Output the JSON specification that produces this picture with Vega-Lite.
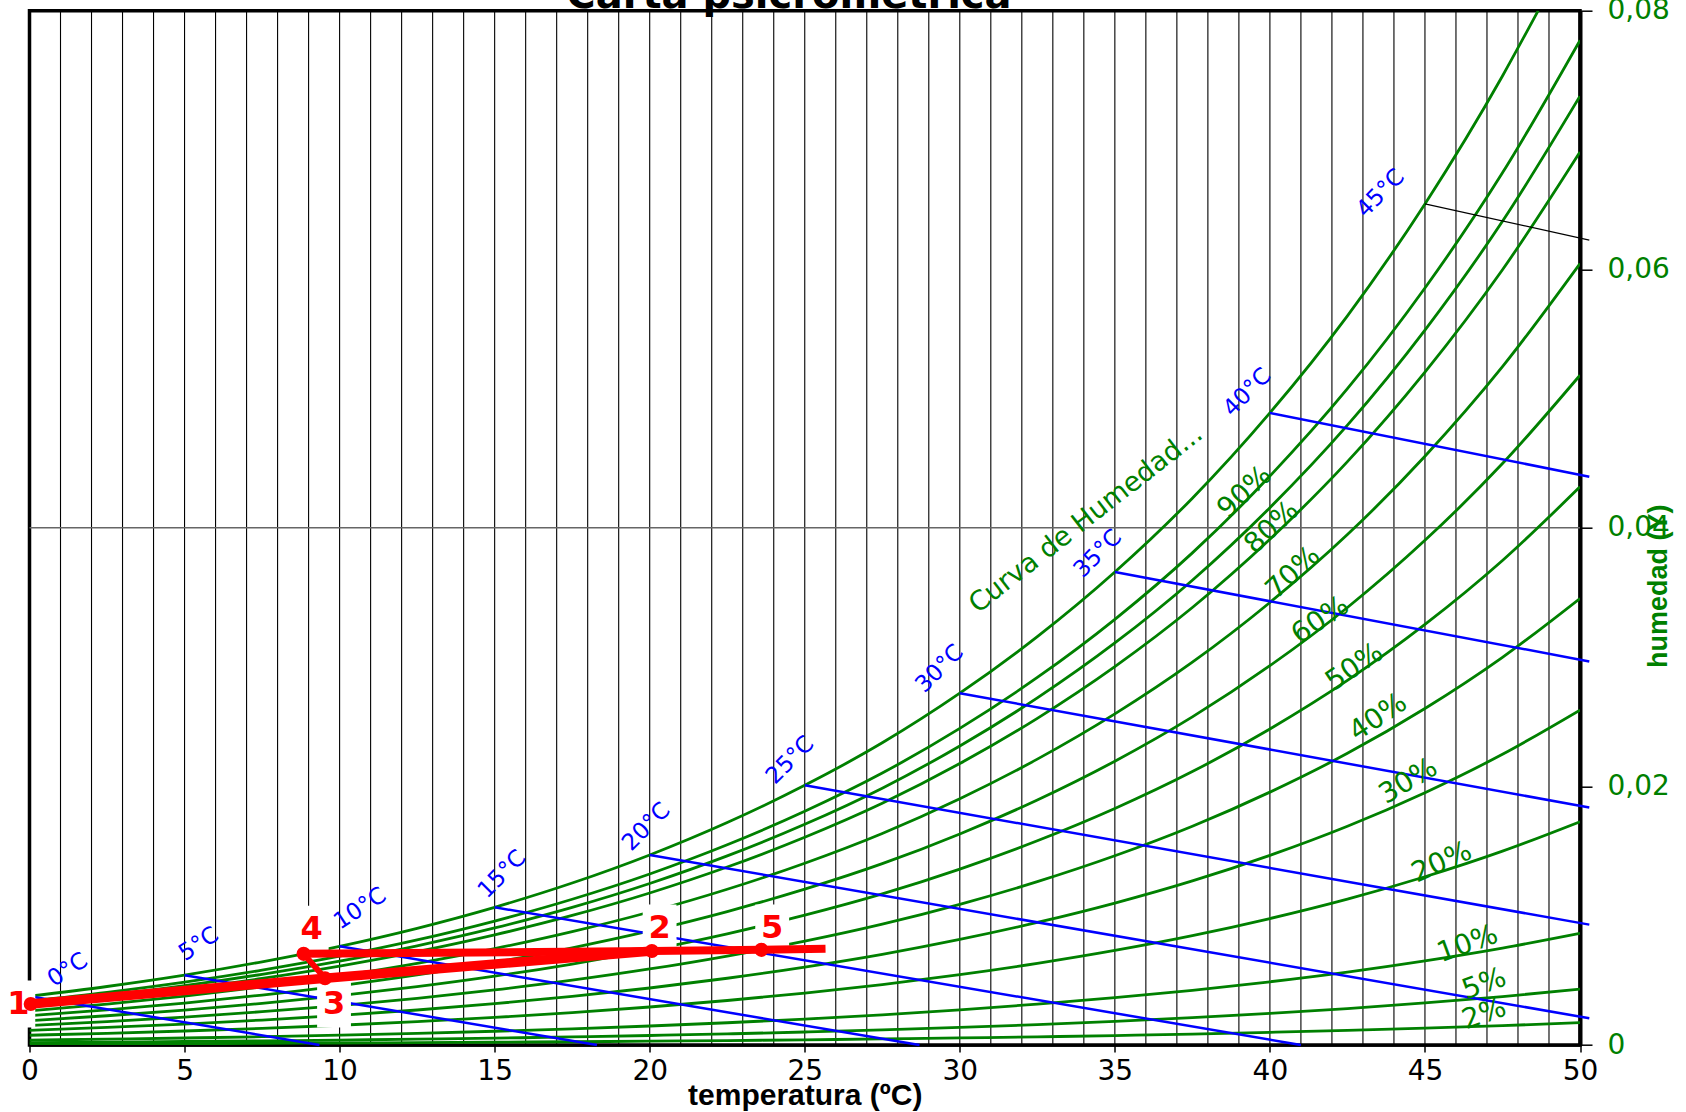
{
  "$schema": "https://vega.github.io/schema/vega-lite/v6.json",
  "width": 1550.5,
  "height": 1034.3,
  "autosize": {"type": "none"},
  "padding": {"left": 29.5, "top": 10.7, "right": 106, "bottom": 67},
  "background": "white",
  "config": {"view": {"stroke": "#000", "strokeWidth": 3.5}},
  "datasets": {
    "grid": [{"T":1},{"T":2},{"T":3},{"T":4},{"T":5},{"T":6},{"T":7},{"T":8},{"T":9},{"T":10},{"T":11},{"T":12},{"T":13},{"T":14},{"T":15},{"T":16},{"T":17},{"T":18},{"T":19},{"T":20},{"T":21},{"T":22},{"T":23},{"T":24},{"T":25},{"T":26},{"T":27},{"T":28},{"T":29},{"T":30},{"T":31},{"T":32},{"T":33},{"T":34},{"T":35},{"T":36},{"T":37},{"T":38},{"T":39},{"T":40},{"T":41},{"T":42},{"T":43},{"T":44},{"T":45},{"T":46},{"T":47},{"T":48},{"T":49}],
    "hline": [{"Y": 0.04}],
    "ttl": [{"txt": "Carta psicrométrica", "T": 24.49, "Y": 0.08023}],
    "rh": [
      {"T":0,"a100":0.003775,"a90":0.003398,"a85":0.003209,"a80":0.00302,"a70":0.002643,"a60":0.002265,"a50":0.001888,"a40":0.00151,"a30":0.001133,"a20":0.000755,"a10":0.000378,"a5":0.000189,"a2":0.0000755},
      {"T":2.5,"a100":0.004524,"a90":0.004072,"a85":0.003845,"a80":0.003619,"a70":0.003167,"a60":0.002714,"a50":0.002262,"a40":0.00181,"a30":0.001357,"a20":0.000905,"a10":0.000452,"a5":0.000226,"a2":0.0000905},
      {"T":5,"a100":0.005403,"a90":0.004863,"a85":0.004593,"a80":0.004322,"a70":0.003782,"a60":0.003242,"a50":0.002702,"a40":0.002161,"a30":0.001621,"a20":0.001081,"a10":0.00054,"a5":0.00027,"a2":0.000108},
      {"T":7.5,"a100":0.006436,"a90":0.005792,"a85":0.005471,"a80":0.005149,"a70":0.004505,"a60":0.003862,"a50":0.003218,"a40":0.002574,"a30":0.001931,"a20":0.001287,"a10":0.000644,"a5":0.000322,"a2":0.000129},
      {"T":10,"a100":0.007632,"a90":0.006869,"a85":0.006487,"a80":0.006106,"a70":0.005342,"a60":0.004579,"a50":0.003816,"a40":0.003053,"a30":0.00229,"a20":0.001526,"a10":0.000763,"a5":0.000382,"a2":0.000153},
      {"T":12.5,"a100":0.009028,"a90":0.008125,"a85":0.007674,"a80":0.007222,"a70":0.00632,"a60":0.005417,"a50":0.004514,"a40":0.003611,"a30":0.002708,"a20":0.001806,"a10":0.000903,"a5":0.000451,"a2":0.000181},
      {"T":15,"a100":0.01065,"a90":0.009585,"a85":0.009053,"a80":0.00852,"a70":0.007455,"a60":0.00639,"a50":0.005325,"a40":0.00426,"a30":0.003195,"a20":0.00213,"a10":0.001065,"a5":0.000533,"a2":0.000213},
      {"T":17.5,"a100":0.012527,"a90":0.011274,"a85":0.010648,"a80":0.010022,"a70":0.008769,"a60":0.007516,"a50":0.006264,"a40":0.005011,"a30":0.003758,"a20":0.002505,"a10":0.001253,"a5":0.000626,"a2":0.000251},
      {"T":20,"a100":0.014699,"a90":0.013229,"a85":0.012494,"a80":0.011759,"a70":0.010289,"a60":0.008819,"a50":0.00735,"a40":0.00588,"a30":0.00441,"a20":0.00294,"a10":0.00147,"a5":0.000735,"a2":0.000294},
      {"T":22.5,"a100":0.017207,"a90":0.015486,"a85":0.014626,"a80":0.013766,"a70":0.012045,"a60":0.010324,"a50":0.008604,"a40":0.006883,"a30":0.005162,"a20":0.003441,"a10":0.001721,"a5":0.00086,"a2":0.000344},
      {"T":25,"a100":0.020086,"a90":0.018077,"a85":0.017073,"a80":0.016069,"a70":0.01406,"a60":0.012052,"a50":0.010043,"a40":0.008034,"a30":0.006026,"a20":0.004017,"a10":0.002009,"a5":0.001004,"a2":0.000402},
      {"T":27.5,"a100":0.023374,"a90":0.021037,"a85":0.019868,"a80":0.018699,"a70":0.016362,"a60":0.014024,"a50":0.011687,"a40":0.00935,"a30":0.007012,"a20":0.004675,"a10":0.002337,"a5":0.001169,"a2":0.000467},
      {"T":30,"a100":0.02721,"a90":0.024489,"a85":0.023129,"a80":0.021768,"a70":0.019047,"a60":0.016326,"a50":0.013605,"a40":0.010884,"a30":0.008163,"a20":0.005442,"a10":0.002721,"a5":0.001361,"a2":0.000544},
      {"T":32.5,"a100":0.031585,"a90":0.028427,"a85":0.026847,"a80":0.025268,"a70":0.02211,"a60":0.018951,"a50":0.015793,"a40":0.012634,"a30":0.009476,"a20":0.006317,"a10":0.003159,"a5":0.001579,"a2":0.000632},
      {"T":35,"a100":0.036584,"a90":0.032926,"a85":0.031096,"a80":0.029267,"a70":0.025609,"a60":0.02195,"a50":0.018292,"a40":0.014634,"a30":0.010975,"a20":0.007317,"a10":0.003658,"a5":0.001829,"a2":0.000732},
      {"T":37.5,"a100":0.042296,"a90":0.038066,"a85":0.035952,"a80":0.033837,"a70":0.029607,"a60":0.025378,"a50":0.021148,"a40":0.016918,"a30":0.012689,"a20":0.008459,"a10":0.00423,"a5":0.002115,"a2":0.000846},
      {"T":40,"a100":0.048894,"a90":0.044005,"a85":0.04156,"a80":0.039115,"a70":0.034226,"a60":0.029336,"a50":0.024447,"a40":0.019558,"a30":0.014668,"a20":0.009779,"a10":0.004889,"a5":0.002445,"a2":0.000978},
      {"T":42.5,"a100":0.056401,"a90":0.050761,"a85":0.047941,"a80":0.045121,"a70":0.039481,"a60":0.033841,"a50":0.028201,"a40":0.02256,"a30":0.01692,"a20":0.01128,"a10":0.00564,"a5":0.00282,"a2":0.001128},
      {"T":45,"a100":0.065057,"a90":0.058551,"a85":0.055298,"a80":0.052046,"a70":0.04554,"a60":0.039034,"a50":0.032529,"a40":0.026023,"a30":0.019517,"a20":0.013011,"a10":0.006506,"a5":0.003253,"a2":0.001301},
      {"T":47.5,"a100":0.074954,"a90":0.067459,"a85":0.063711,"a80":0.059963,"a70":0.052468,"a60":0.044972,"a50":0.037477,"a40":0.029982,"a30":0.022486,"a20":0.014991,"a10":0.007495,"a5":0.003748,"a2":0.001499},
      {"T":48.65,"a100":0.08,"a90":null,"a85":null,"a80":null,"a70":null,"a60":null,"a50":null,"a40":null,"a30":null,"a20":null,"a10":null,"a5":null,"a2":null},
      {"T":50,"a100":null,"a90":0.07771,"a85":0.073392,"a80":0.069075,"a70":0.060441,"a60":0.051806,"a50":0.043172,"a40":0.034538,"a30":0.025903,"a20":0.017269,"a10":0.008634,"a5":0.004317,"a2":0.001727}
    ],
    "wb": [
      {"tw":"0","T":0,"Y":0.003775},{"tw":"0","T":9.35,"Y":0},
      {"tw":"5","T":5,"Y":0.005403},{"tw":"5","T":18.3,"Y":0},
      {"tw":"10","T":10,"Y":0.007632},{"tw":"10","T":28.7,"Y":0},
      {"tw":"15","T":15,"Y":0.01065},{"tw":"15","T":41.0,"Y":0},
      {"tw":"20","T":20,"Y":0.014699},{"tw":"20","T":50.3,"Y":0.00207},
      {"tw":"25","T":25,"Y":0.020086},{"tw":"25","T":50.3,"Y":0.00931},
      {"tw":"30","T":30,"Y":0.02721},{"tw":"30","T":50.3,"Y":0.01837},
      {"tw":"35","T":35,"Y":0.036584},{"tw":"35","T":50.3,"Y":0.02967},
      {"tw":"40","T":40,"Y":0.048894},{"tw":"40","T":50.3,"Y":0.04396}
    ],
    "wb45": [{"T":45,"Y":0.065057},{"T":50.3,"Y":0.06226}],
    "wbl": [
      {"txt":"0°C","T":1.23,"Y":0.00581},{"txt":"5°C","T":5.46,"Y":0.0078},{"txt":"10°C","T":10.66,"Y":0.01055},
      {"txt":"15°C","T":15.24,"Y":0.01321},{"txt":"20°C","T":19.89,"Y":0.01687},{"txt":"25°C","T":24.53,"Y":0.02203},
      {"txt":"30°C","T":29.35,"Y":0.0291},{"txt":"35°C","T":34.45,"Y":0.038},{"txt":"40°C","T":39.27,"Y":0.05048},{"txt":"45°C","T":43.57,"Y":0.06587}
    ],
    "pl": [
      {"txt":"90%","T":39.2,"Y":0.04274},{"txt":"80%","T":40.07,"Y":0.04},{"txt":"70%","T":40.76,"Y":0.03651},
      {"txt":"60%","T":41.63,"Y":0.03283},{"txt":"50%","T":42.74,"Y":0.0292},{"txt":"40%","T":43.5,"Y":0.02532},
      {"txt":"30%","T":44.47,"Y":0.02037},{"txt":"20%","T":45.55,"Y":0.0141},
      {"txt":"10%","T":46.38,"Y":0.00778},{"txt":"5%","T":46.92,"Y":0.00468},{"txt":"2%","T":46.92,"Y":0.00236},
      {"txt":"Curva de Humedad...","T":34.07,"Y":0.04067}
    ],
    "proc": [
      {"seg":"A","T":0.04,"Y":0.00317},{"seg":"A","T":9.53,"Y":0.00516},{"seg":"A","T":20.07,"Y":0.00727},
      {"seg":"B","T":8.84,"Y":0.00705},{"seg":"B","T":20.07,"Y":0.00727},{"seg":"B","T":23.6,"Y":0.00736},{"seg":"B","T":25.67,"Y":0.00745},
      {"seg":"C","T":8.84,"Y":0.00705},{"seg":"C","T":9.53,"Y":0.00516}
    ],
    "pts": [
      {"n":"1","T":0.04,"Y":0.00317},{"n":"2","T":20.07,"Y":0.00727},{"n":"3","T":9.53,"Y":0.00516},{"n":"4","T":8.84,"Y":0.00705},{"n":"5","T":23.6,"Y":0.00736}
    ],
    "lab": [
      {"n":"1","T":-0.36,"Y":0.00317},{"n":"2","T":20.32,"Y":0.00905},{"n":"3","T":9.82,"Y":0.00317},{"n":"4","T":9.1,"Y":0.00895},{"n":"5","T":23.95,"Y":0.00905}
    ]
  },
  "layer": [
    {
      "data": {"name": "grid"},
      "mark": {"type": "rule", "color": "#000", "strokeWidth": 1.1},
      "encoding": {
        "x": {"field": "T", "type": "quantitative", "scale": {"domain": [0, 50], "nice": false},
          "axis": {"values": [0,5,10,15,20,25,30,35,40,45,50], "grid": false, "title": "temperatura (ºC)",
            "titleFont": "Liberation Sans", "titleFontSize": 30, "titleFontWeight": "bold", "titleColor": "#000",
            "titleY": 59, "titleBaseline": "alphabetic",
            "labelFont": "DejaVu Sans", "labelFontSize": 28, "labelColor": "#000", "labelPadding": 5, "labelBaseline": "top",
            "tickSize": 7, "tickColor": "#000", "tickWidth": 1.5, "domainColor": "#000", "domainWidth": 2.5,
            "labelOverlap": false, "labelFlush": false}}
      }
    },
    {
      "data": {"name": "hline"},
      "mark": {"type": "rule", "color": "#666", "strokeWidth": 1.5},
      "encoding": {"y": {"field": "Y", "type": "quantitative", "scale": {"domain": [0, 0.08], "nice": false, "zero": false}}}
    },
    {
      "data": {"name": "rh"},
      "transform": [{"fold": ["a100","a90","a85","a80","a70","a60","a50","a40","a30","a20","a10","a5","a2"], "as": ["k", "Y"]}, {"filter": "isValid(datum.Y)"}],
      "mark": {"type": "line", "color": "#008000", "strokeWidth": 2.8, "clip": true, "interpolate": "monotone"},
      "encoding": {
        "x": {"field": "T", "type": "quantitative", "scale": {"domain": [0, 50], "nice": false}},
        "y": {"field": "Y", "type": "quantitative", "scale": {"domain": [0, 0.08], "nice": false, "zero": false},
          "axis": {"orient": "right", "values": [0, 0.02, 0.04, 0.06, 0.08], "grid": false, "title": "humedad (Y)",
            "titleFont": "Liberation Sans", "titleFontSize": 27, "titleFontWeight": "bold", "titleColor": "#008000",
            "titleAngle": 270, "titleX": 78, "titleY": 575, "titleAlign": "center", "titleBaseline": "middle",
            "labelExpr": "datum.value == 0 ? '0' : replace(format(datum.value, '.2f'), '.', ',')",
            "labelFont": "DejaVu Sans", "labelFontSize": 28, "labelColor": "#008000", "labelPadding": 15,
            "tickSize": 12, "tickColor": "#000", "tickWidth": 1.5, "domainColor": "#000", "domainWidth": 4,
            "labelOverlap": false, "labelFlush": false}},
        "detail": {"field": "k", "type": "nominal"}
      }
    },
    {
      "data": {"name": "wb"},
      "mark": {"type": "line", "color": "#0000FF", "strokeWidth": 2.5},
      "encoding": {
        "x": {"field": "T", "type": "quantitative", "scale": {"domain": [0, 50], "nice": false}},
        "y": {"field": "Y", "type": "quantitative", "scale": {"domain": [0, 0.08], "nice": false, "zero": false}},
        "detail": {"field": "tw", "type": "nominal"}
      }
    },
    {
      "data": {"name": "wb45"},
      "mark": {"type": "line", "color": "#000", "strokeWidth": 1.2},
      "encoding": {
        "x": {"field": "T", "type": "quantitative", "scale": {"domain": [0, 50], "nice": false}},
        "y": {"field": "Y", "type": "quantitative", "scale": {"domain": [0, 0.08], "nice": false, "zero": false}}
      }
    },
    {
      "data": {"name": "wbl"},
      "transform": [{"filter": {"field": "txt", "oneOf": ["0°C", "5°C", "10°C"]}}],
      "mark": {"type": "text", "color": "#0000FF", "font": "DejaVu Sans", "fontSize": 23, "angle": 327, "align": "center", "baseline": "middle"},
      "encoding": {
        "x": {"field": "T", "type": "quantitative", "scale": {"domain": [0, 50], "nice": false}},
        "y": {"field": "Y", "type": "quantitative", "scale": {"domain": [0, 0.08], "nice": false, "zero": false}},
        "text": {"field": "txt"}
      }
    },
    {
      "data": {"name": "wbl"},
      "transform": [{"filter": {"field": "txt", "oneOf": ["15°C", "20°C", "25°C", "30°C", "35°C", "40°C", "45°C"]}}],
      "mark": {"type": "text", "color": "#0000FF", "font": "DejaVu Sans", "fontSize": 23, "angle": 315, "align": "center", "baseline": "middle"},
      "encoding": {
        "x": {"field": "T", "type": "quantitative", "scale": {"domain": [0, 50], "nice": false}},
        "y": {"field": "Y", "type": "quantitative", "scale": {"domain": [0, 0.08], "nice": false, "zero": false}},
        "text": {"field": "txt"}
      }
    },
    {
      "data": {"name": "pl"},
      "transform": [{"filter": {"field": "txt", "oneOf": ["90%", "80%", "70%"]}}],
      "mark": {"type": "text", "color": "#008000", "font": "DejaVu Sans", "fontSize": 28, "angle": 317, "align": "center", "baseline": "middle"},
      "encoding": {
        "x": {"field": "T", "type": "quantitative", "scale": {"domain": [0, 50], "nice": false}},
        "y": {"field": "Y", "type": "quantitative", "scale": {"domain": [0, 0.08], "nice": false, "zero": false}},
        "text": {"field": "txt"}
      }
    },
    {
      "data": {"name": "pl"},
      "transform": [{"filter": {"field": "txt", "oneOf": ["60%", "50%", "40%"]}}],
      "mark": {"type": "text", "color": "#008000", "font": "DejaVu Sans", "fontSize": 28, "angle": 326, "align": "center", "baseline": "middle"},
      "encoding": {
        "x": {"field": "T", "type": "quantitative", "scale": {"domain": [0, 50], "nice": false}},
        "y": {"field": "Y", "type": "quantitative", "scale": {"domain": [0, 0.08], "nice": false, "zero": false}},
        "text": {"field": "txt"}
      }
    },
    {
      "data": {"name": "pl"},
      "transform": [{"filter": {"field": "txt", "oneOf": ["30%"]}}],
      "mark": {"type": "text", "color": "#008000", "font": "DejaVu Sans", "fontSize": 28, "angle": 329, "align": "center", "baseline": "middle"},
      "encoding": {
        "x": {"field": "T", "type": "quantitative", "scale": {"domain": [0, 50], "nice": false}},
        "y": {"field": "Y", "type": "quantitative", "scale": {"domain": [0, 0.08], "nice": false, "zero": false}},
        "text": {"field": "txt"}
      }
    },
    {
      "data": {"name": "pl"},
      "transform": [{"filter": {"field": "txt", "oneOf": ["20%"]}}],
      "mark": {"type": "text", "color": "#008000", "font": "DejaVu Sans", "fontSize": 28, "angle": 336, "align": "center", "baseline": "middle"},
      "encoding": {
        "x": {"field": "T", "type": "quantitative", "scale": {"domain": [0, 50], "nice": false}},
        "y": {"field": "Y", "type": "quantitative", "scale": {"domain": [0, 0.08], "nice": false, "zero": false}},
        "text": {"field": "txt"}
      }
    },
    {
      "data": {"name": "pl"},
      "transform": [{"filter": {"field": "txt", "oneOf": ["10%", "5%", "2%"]}}],
      "mark": {"type": "text", "color": "#008000", "font": "DejaVu Sans", "fontSize": 28, "angle": 340, "align": "center", "baseline": "middle"},
      "encoding": {
        "x": {"field": "T", "type": "quantitative", "scale": {"domain": [0, 50], "nice": false}},
        "y": {"field": "Y", "type": "quantitative", "scale": {"domain": [0, 0.08], "nice": false, "zero": false}},
        "text": {"field": "txt"}
      }
    },
    {
      "data": {"name": "pl"},
      "transform": [{"filter": {"field": "txt", "oneOf": ["Curva de Humedad..."]}}],
      "mark": {"type": "text", "color": "#008000", "font": "DejaVu Sans", "fontSize": 27, "angle": 322, "align": "center", "baseline": "middle"},
      "encoding": {
        "x": {"field": "T", "type": "quantitative", "scale": {"domain": [0, 50], "nice": false}},
        "y": {"field": "Y", "type": "quantitative", "scale": {"domain": [0, 0.08], "nice": false, "zero": false}},
        "text": {"field": "txt"}
      }
    },
    {
      "data": {"name": "lab"},
      "mark": {"type": "point", "shape": "M-0.72,-1L0.72,-1L0.72,1L-0.72,1Z", "filled": true, "color": "white", "opacity": 1, "size": 2209, "strokeWidth": 0},
      "encoding": {
        "x": {"field": "T", "type": "quantitative", "scale": {"domain": [0, 50], "nice": false}},
        "y": {"field": "Y", "type": "quantitative", "scale": {"domain": [0, 0.08], "nice": false, "zero": false}}
      }
    },
    {
      "data": {"name": "proc"},
      "transform": [{"filter": {"field": "seg", "equal": "A"}}],
      "mark": {"type": "line", "color": "#FF0000", "strokeWidth": 9.5},
      "encoding": {
        "x": {"field": "T", "type": "quantitative", "scale": {"domain": [0, 50], "nice": false}},
        "y": {"field": "Y", "type": "quantitative", "scale": {"domain": [0, 0.08], "nice": false, "zero": false}}
      }
    },
    {
      "data": {"name": "proc"},
      "transform": [{"filter": {"field": "seg", "equal": "B"}}],
      "mark": {"type": "line", "color": "#FF0000", "strokeWidth": 8},
      "encoding": {
        "x": {"field": "T", "type": "quantitative", "scale": {"domain": [0, 50], "nice": false}},
        "y": {"field": "Y", "type": "quantitative", "scale": {"domain": [0, 0.08], "nice": false, "zero": false}}
      }
    },
    {
      "data": {"name": "proc"},
      "transform": [{"filter": {"field": "seg", "equal": "C"}}],
      "mark": {"type": "line", "color": "#FF0000", "strokeWidth": 6},
      "encoding": {
        "x": {"field": "T", "type": "quantitative", "scale": {"domain": [0, 50], "nice": false}},
        "y": {"field": "Y", "type": "quantitative", "scale": {"domain": [0, 0.08], "nice": false, "zero": false}}
      }
    },
    {
      "data": {"name": "pts"},
      "mark": {"type": "circle", "color": "#FF0000", "opacity": 1, "size": 200},
      "encoding": {
        "x": {"field": "T", "type": "quantitative", "scale": {"domain": [0, 50], "nice": false}},
        "y": {"field": "Y", "type": "quantitative", "scale": {"domain": [0, 0.08], "nice": false, "zero": false}}
      }
    },
    {
      "data": {"name": "lab"},
      "mark": {"type": "text", "color": "#FF0000", "font": "DejaVu Sans", "fontSize": 32, "fontWeight": "bold", "align": "center", "baseline": "middle"},
      "encoding": {
        "x": {"field": "T", "type": "quantitative", "scale": {"domain": [0, 50], "nice": false}},
        "y": {"field": "Y", "type": "quantitative", "scale": {"domain": [0, 0.08], "nice": false, "zero": false}},
        "text": {"field": "n"}
      }
    },
    {
      "data": {"name": "ttl"},
      "mark": {"type": "text", "color": "#000", "font": "DejaVu Sans", "fontSize": 40, "fontWeight": "bold", "align": "center", "baseline": "alphabetic"},
      "encoding": {
        "x": {"field": "T", "type": "quantitative", "scale": {"domain": [0, 50], "nice": false}},
        "y": {"field": "Y", "type": "quantitative", "scale": {"domain": [0, 0.08], "nice": false, "zero": false}},
        "text": {"field": "txt"}
      }
    }
  ]
}
